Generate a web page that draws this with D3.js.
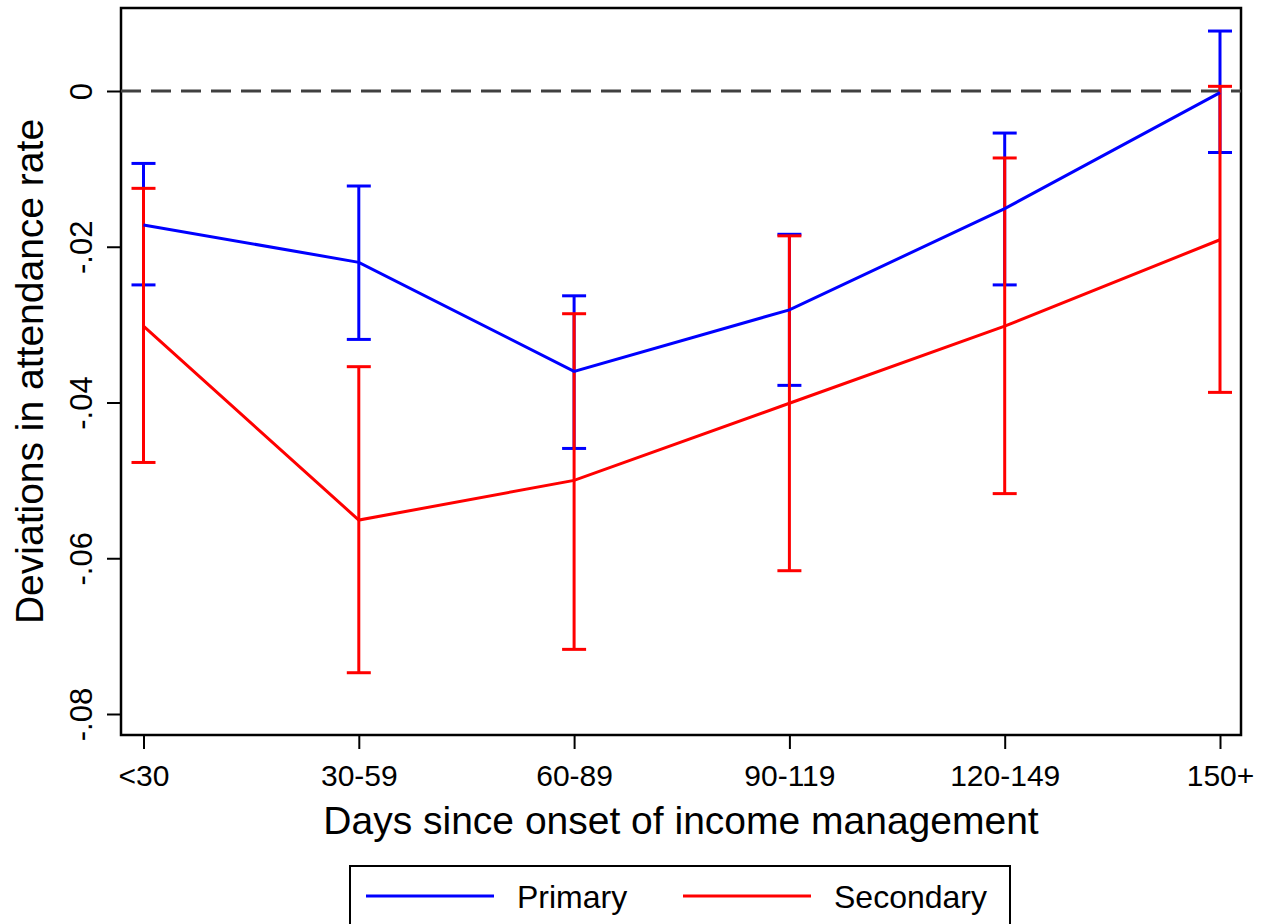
<!DOCTYPE html>
<html>
<head>
<meta charset="utf-8">
<script src="https://cdn.jsdelivr.net/npm/d3@7"></script>
<style>
  body { margin: 0; background: #fff; }
  text { font-family: "Liberation Sans", Arial, sans-serif; fill: #000; }
</style>
</head>
<body>
<div id="chart"></div>
<script>
// categories and estimates
var categories = ['<30', '30-59', '60-89', '90-119', '120-149', '150+'];
var primaryEst = [-0.0172, -0.0220, -0.0360, -0.0281, -0.0151, -0.0002];
var primaryLo  = [-0.0249, -0.0319, -0.0459, -0.0378, -0.0249, -0.0079];
var primaryHi  = [-0.0093, -0.0122, -0.0263, -0.0184, -0.0054, 0.0077];
var secondaryEst = [-0.0302, -0.0551, -0.0500, -0.0401, -0.0302, -0.0191];
var secondaryLo  = [-0.0477, -0.0747, -0.0717, -0.0616, -0.0517, -0.0387];
var secondaryHi  = [-0.0125, -0.0354, -0.0286, -0.0186, -0.0086, 0.0006];
var yTicks = [0, -0.02, -0.04, -0.06, -0.08];
var yTickLabels = ['0', '-.02', '-.04', '-.06', '-.08'];

var width = 1263, height = 924;
var plot = { left: 121, right: 1241, top: 8, bottom: 735 };

var svg = d3.select('#chart').append('svg')
    .attr('width', width)
    .attr('height', height);

var x = d3.scalePoint()
    .domain(categories)
    .range([143.5, 1220]);

// 0 -> 91px, -0.08 -> 714px
var y = d3.scaleLinear()
    .domain([-0.08, 0])
    .range([714, 91]);

// plot frame
svg.append('rect')
    .attr('x', plot.left)
    .attr('y', plot.top)
    .attr('width', plot.right - plot.left)
    .attr('height', plot.bottom - plot.top)
    .attr('fill', 'none')
    .attr('stroke', '#000')
    .attr('stroke-width', 2.5);

// y axis
var yAxis = d3.axisLeft(y)
    .tickValues(yTicks)
    .tickSize(14)
    .tickFormat(function(d, i) { return yTickLabels[i]; });
var yg = svg.append('g')
    .attr('transform', 'translate(' + plot.left + ',0)')
    .call(yAxis);
yg.select('.domain').remove();
yg.selectAll('.tick line').attr('stroke', '#000').attr('stroke-width', 2);
yg.selectAll('.tick text')
    .attr('x', 0).attr('dy', 0)
    .attr('transform', 'translate(-29,0) rotate(-90)')
    .attr('text-anchor', 'middle')
    .style('font-size', '31px');

// x axis
var xAxis = d3.axisBottom(x).tickSize(14);
var xg = svg.append('g')
    .attr('transform', 'translate(0,' + plot.bottom + ')')
    .call(xAxis);
xg.select('.domain').remove();
xg.selectAll('.tick line').attr('stroke', '#000').attr('stroke-width', 2);
xg.selectAll('.tick text')
    .attr('y', 30)
    .attr('dy', '0.71em')
    .style('font-size', '30px');

// axis titles
svg.append('text')
    .attr('x', (plot.left + plot.right) / 2)
    .attr('y', 834)
    .attr('text-anchor', 'middle')
    .style('font-size', '39px')
    .text('Days since onset of income management');

svg.append('text')
    .attr('transform', 'translate(43,' + (plot.top + plot.bottom) / 2 + ') rotate(-90)')
    .attr('text-anchor', 'middle')
    .style('font-size', '39px')
    .text('Deviations in attendance rate');

// reference line at zero
svg.append('line')
    .attr('x1', plot.left).attr('x2', plot.right)
    .attr('y1', y(0)).attr('y2', y(0))
    .attr('stroke', '#404040')
    .attr('stroke-width', 3)
    .attr('stroke-dasharray', '20,10');

var series = [
  { name: 'Primary', color: '#0000ff', est: primaryEst, lo: primaryLo, hi: primaryHi },
  { name: 'Secondary', color: '#ff0000', est: secondaryEst, lo: secondaryLo, hi: secondaryHi }
];

var line = d3.line()
    .x(function(d) { return x(d.cat); })
    .y(function(d) { return y(d.v); });

var capHalf = 12;

series.forEach(function(s) {
  var rows = categories.map(function(c, i) {
    return { cat: c, v: s.est[i], lo: s.lo[i], hi: s.hi[i] };
  });
  var g = svg.append('g').attr('class', 'series');
  // error bars
  var bars = g.selectAll('g.bar')
      .data(rows)
      .enter()
      .append('g')
      .attr('class', 'bar')
      .attr('stroke', s.color)
      .attr('stroke-width', 3);
  bars.append('line')
      .attr('x1', function(d) { return x(d.cat); })
      .attr('x2', function(d) { return x(d.cat); })
      .attr('y1', function(d) { return y(d.lo); })
      .attr('y2', function(d) { return y(d.hi); });
  bars.append('line')
      .attr('x1', function(d) { return x(d.cat) - capHalf; })
      .attr('x2', function(d) { return x(d.cat) + capHalf; })
      .attr('y1', function(d) { return y(d.lo); })
      .attr('y2', function(d) { return y(d.lo); });
  bars.append('line')
      .attr('x1', function(d) { return x(d.cat) - capHalf; })
      .attr('x2', function(d) { return x(d.cat) + capHalf; })
      .attr('y1', function(d) { return y(d.hi); })
      .attr('y2', function(d) { return y(d.hi); });
  s.rows = rows;
});

// lines over error bars
series.forEach(function(s) {
  svg.append('path')
      .datum(s.rows)
      .attr('d', line)
      .attr('fill', 'none')
      .attr('stroke', s.color)
      .attr('stroke-width', 3);
});

// legend
var legend = svg.append('g').attr('class', 'legend');
legend.append('rect')
    .attr('x', 350).attr('y', 866)
    .attr('width', 660).attr('height', 80)
    .attr('fill', '#fff')
    .attr('stroke', '#000')
    .attr('stroke-width', 2);
var legendPos = [366, 683];
var items = legend.selectAll('g.item')
    .data(series)
    .enter()
    .append('g')
    .attr('class', 'item')
    .attr('transform', function(d, i) { return 'translate(' + legendPos[i] + ',896)'; });
items.append('line')
    .attr('x1', 0).attr('x2', 128)
    .attr('stroke', function(d) { return d.color; })
    .attr('stroke-width', 3);
items.append('text')
    .attr('x', 151)
    .attr('dy', '0.36em')
    .style('font-size', '32px')
    .text(function(d) { return d.name; });
</script>
</body>
</html>
